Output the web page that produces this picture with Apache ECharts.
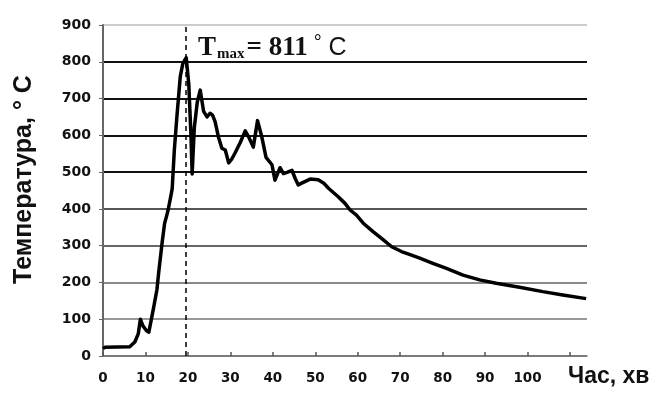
<!DOCTYPE html>
<html>
<head>
<meta charset="utf-8">
<script src="https://cdn.jsdelivr.net/npm/echarts@6/dist/echarts.min.js"></script>
<style>
  html, body { margin: 0; padding: 0; background: #fff; }
  #chart { width: 658px; height: 394px; }
</style>
</head>
<body>
<div id="chart"></div>
<script>
// час, хв
var timeMin = [0, 0.5, 6.3, 7.5, 8.3, 8.8, 9.4, 10.3, 10.8, 11.9, 12.7, 13.1, 13.9, 14.5, 15.3, 15.9,
  16.3, 16.8, 17.4, 18.2, 18.8, 19.6, 20.2, 20.7, 21.0, 21.5, 22.2, 22.9, 23.7, 24.5, 25.2, 25.8,
  26.4, 27.2, 28.0, 28.8, 29.6, 30.3, 31.1, 32.3, 33.5, 34.3, 35.4, 36.4, 37.4, 38.4, 39.8, 40.5,
  41.7, 42.5, 43.5, 44.5, 45.3, 46.0, 46.8, 48.8, 50.7, 52.0, 53.1, 55.4, 57.0, 58.2, 59.7, 61.3,
  63.6, 65.6, 68.0, 70.3, 72.5, 74.6, 77.7, 80.9, 84.8, 88.7, 92.6, 98.1, 103.6, 108.3, 113.8];
// температура, °C
var tempC = [20, 24, 25, 38, 60, 100, 82, 68, 65, 130, 180, 225, 306, 360, 395, 430,
  455, 560, 650, 760, 795, 811, 740, 606, 495, 620, 690, 723, 665, 650, 660, 655,
  637, 595, 565, 560, 525, 535, 552, 580, 612, 596, 568, 640, 596, 540, 520, 478,
  512, 496, 500, 505, 482, 465, 470, 481, 479, 470, 456, 433, 415, 397, 383, 361,
  338, 320, 297, 284, 275, 266, 252, 238, 220, 207, 198, 187, 175, 166, 156];
var xLabels = [0, 10, 20, 30, 40, 50, 60, 70, 80, 90, 100];
var peakTime = 19.6;
var peakTemp = 811;

var points = [];
for (var i = 0; i < timeMin.length; i++) {
  points.push([timeMin[i], tempC[i]]);
}

var chart = echarts.init(document.getElementById("chart"));
chart.setOption({
  animation: false,
  backgroundColor: "#fff",
  title: {
    left: 193,
    top: 28,
    text: "{t|T}{sub|max}{eq|= " + peakTemp + "}{deg|°}{c| C}",
    textStyle: {
      rich: {
        t: { fontFamily: "Liberation Serif", fontWeight: "bold", fontSize: 27, color: "#111" },
        sub: { fontFamily: "Liberation Serif", fontWeight: "bold", fontSize: 15, color: "#111", padding: [12, 2, 0, 1] },
        eq: { fontFamily: "Liberation Serif", fontWeight: "bold", fontSize: 27, color: "#111" },
        deg: { fontFamily: "Liberation Sans", fontWeight: "normal", fontSize: 20, color: "#111", padding: [0, 0, 10, 6] },
        c: { fontFamily: "Liberation Sans", fontWeight: "normal", fontSize: 25, color: "#111" },
      },
    },
  },
  grid: {
    left: 103,
    right: 71,
    top: 25,
    bottom: 38,
  },
  xAxis: {
    type: "value",
    min: 0,
    max: 114,
    interval: 10,
    name: "Час, хв",
    nameLocation: "end",
    nameGap: -19,
    nameTextStyle: {
      fontFamily: "Liberation Sans",
      fontWeight: "bold",
      fontSize: 23,
      color: "#111",
      align: "left",
      verticalAlign: "top",
      padding: [9, 0, 0, 0],
    },
    axisLine: { lineStyle: { color: "#777", width: 1.5 } },
    axisTick: { inside: true, length: 4, lineStyle: { color: "#555", width: 1.5 } },
    axisLabel: {
      margin: 15,
      fontFamily: "DejaVu Sans",
      fontWeight: "bold",
      fontSize: 13.5,
      color: "#111",
      showMaxLabel: false,
      formatter: function (v) {
        return xLabels.indexOf(v) >= 0 ? String(v) : "";
      },
    },
    splitLine: { show: false },
  },
  yAxis: {
    type: "value",
    min: 0,
    max: 900,
    interval: 100,
    name: "Температура, ° С",
    nameLocation: "middle",
    nameGap: 66,
    nameRotate: 90,
    nameTextStyle: {
      fontFamily: "Liberation Sans",
      fontWeight: "bold",
      fontSize: 25,
      color: "#111",
      padding: [0, 0, 0, 22],
    },
    axisLine: { show: true, lineStyle: { color: "#666", width: 2 } },
    axisTick: { show: true, length: 4, lineStyle: { color: "#666" } },
    axisLabel: {
      margin: 12,
      fontFamily: "DejaVu Sans",
      fontWeight: "bold",
      fontSize: 14,
      color: "#111",
    },
    splitLine: {
      show: true,
      lineStyle: {
        width: 2,
        color: ["#888", "#999", "#8a8a8a", "#666", "#555", "#111", "#111", "#111", "#111", "#ccc"],
      },
    },
  },
  series: [
    {
      type: "line",
      data: points,
      symbol: "none",
      smooth: false,
      lineStyle: { color: "#000", width: 3.5, join: "round" },
      markLine: {
        silent: true,
        symbol: "none",
        label: { show: false },
        lineStyle: { color: "#000", type: [5, 4], width: 1.5 },
        data: [{ xAxis: peakTime }],
      },
      z: 3,
    },
  ],
});
</script>
</body>
</html>
